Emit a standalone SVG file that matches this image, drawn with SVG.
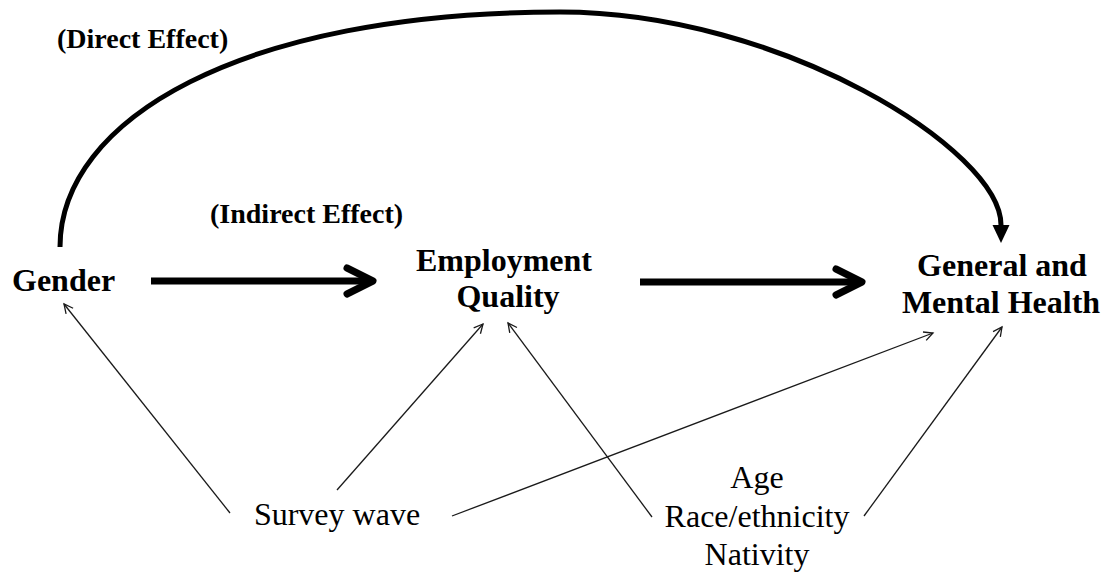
<svg xmlns="http://www.w3.org/2000/svg" width="1111" height="575" viewBox="0 0 1111 575">
<style>
text{font-family:"Liberation Serif","Times New Roman",serif;fill:#000}
.node{font-size:32px;font-weight:bold}
.lab{font-size:28px;font-weight:bold}
.cov{font-size:32px}
.thick{stroke:#000;stroke-width:7;fill:none}
.curve{stroke:#000;stroke-width:5;fill:none}
.thin{stroke:#1a1a1a;stroke-width:1.3;fill:none}
</style>
<defs>
<marker id="chev" markerUnits="userSpaceOnUse" viewBox="-34 -20 42 40" markerWidth="42" markerHeight="40" refX="0" refY="0" orient="auto">
<path d="M-26,-13 L0,0 L-26,13" fill="none" stroke="#000" stroke-width="7" stroke-linecap="round" stroke-linejoin="round"/>
</marker>
<marker id="tri" markerUnits="userSpaceOnUse" viewBox="0 -10 20 20" markerWidth="20" markerHeight="20" refX="0" refY="0" orient="auto">
<path d="M0,-8.5 L18,0 L0,8.5 Z" fill="#000"/>
</marker>
<marker id="open" markerUnits="userSpaceOnUse" viewBox="-12 -8 16 16" markerWidth="16" markerHeight="16" refX="0" refY="0" orient="auto">
<path d="M-9,-4.5 L0,0 L-9,4.5" fill="none" stroke="#1a1a1a" stroke-width="1.3"/>
</marker>
</defs>
<g id="connectors">
<path class="curve" d="M60,247 C60,120 240,12 560,12 C780,12 1001,150 1001,225" marker-end="url(#tri)"/>
<line class="thick" x1="151" y1="281" x2="373" y2="281" marker-end="url(#chev)"/>
<line class="thick" x1="640" y1="282" x2="862" y2="282" marker-end="url(#chev)"/>
<line class="thin" x1="230" y1="513" x2="64" y2="304" marker-end="url(#open)"/>
<line class="thin" x1="337" y1="490" x2="483" y2="324" marker-end="url(#open)"/>
<line class="thin" x1="452" y1="516" x2="933" y2="333" marker-end="url(#open)"/>
<line class="thin" x1="652" y1="517" x2="508" y2="323" marker-end="url(#open)"/>
<line class="thin" x1="864" y1="516" x2="1002" y2="327" marker-end="url(#open)"/>
</g>
<g id="label-direct"><text class="lab" x="57" y="48">(Direct Effect)</text></g>
<g id="label-indirect"><text class="lab" x="210" y="223">(Indirect Effect)</text></g>
<g id="node-gender"><text class="node" x="12" y="291">Gender</text></g>
<g id="node-employment" text-anchor="middle"><text class="node" x="504" y="271">Employment</text><text class="node" x="508" y="307">Quality</text></g>
<g id="node-health" text-anchor="middle"><text class="node" x="1002" y="276">General and</text><text class="node" x="1001" y="313">Mental Health</text></g>
<g id="node-survey" text-anchor="middle"><text class="cov" x="337" y="525">Survey wave</text></g>
<g id="node-demo" text-anchor="middle"><text class="cov" x="757" y="488">Age</text><text class="cov" x="757" y="527">Race/ethnicity</text><text class="cov" x="757" y="565">Nativity</text></g>
</svg>
